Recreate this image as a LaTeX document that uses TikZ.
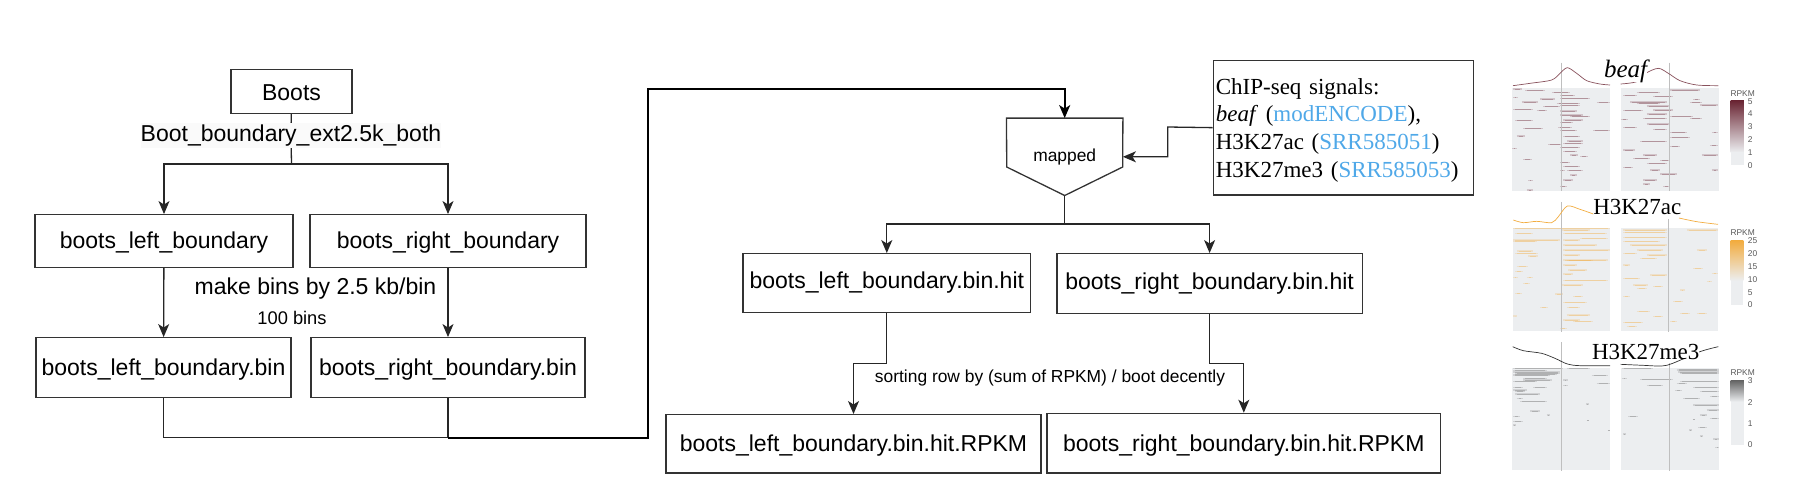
\documentclass[tikz,border=0pt]{standalone}
\usepackage{fontspec}
\setmainfont{Liberation Sans}
\newfontfamily\timesfont{Liberation Serif}
\usetikzlibrary{arrows.meta}

\definecolor{edgegray}{HTML}{333333}
\definecolor{linkblue}{HTML}{4FA8E8}
\definecolor{panelgray}{HTML}{ECEEF0}
\definecolor{beafred}{HTML}{6A2533}
\definecolor{acorange}{HTML}{F2AC3F}
\definecolor{megray}{HTML}{666666}

% streak rows of one heatmap panel: from/to/row
\newcommand{\streaks}[2]{%
  \foreach \xa/\xb/\yy in {#2}{
    \draw[#1, opacity=.2, line width=1.6pt] (\xa,\yy) -- (\xb,\yy);
    \draw[#1, opacity=.3, line width=.9pt, shorten >=2pt, shorten <=2pt] (\xa,\yy) -- (\xb,\yy);
  }}

\begin{document}
\begin{tikzpicture}[
  x=1pt, y=-1pt,
  font=\fontsize{23}{27.6}\selectfont,
  box/.style={draw=edgegray, line width=1.3pt, inner sep=0pt},
  label/.style={text height=20pt, text depth=4.4pt},
  depends/.style={-{Stealth[length=13pt,width=11pt,inset=3.5pt]}, line width=1.3pt, draw=black!85},
  line/.style={-, line width=1.3pt, draw=black!85},
  route/.style={line width=1.9pt, draw=black},
  small/.style={font=\fontsize{17.4}{20}\selectfont},
  title/.style={font=\timesfont\fontsize{23}{26}\selectfont, fill=white, inner sep=0pt},
  panel/.style={fill=panelgray, draw=none},
  curve/.style={line width=.7pt},
  centerline/.style={draw=black!25, line width=.8pt},
  scale label/.style={font=\fontsize{8.4}{10}\selectfont, text=black!65, inner sep=0pt}]

  \useasboundingbox (0,0) rectangle (1802,491);

  % left column
  \node[box, text height=18.8pt, text depth=0pt, minimum width=121pt, minimum height=44pt] (boots) at (291.5,91.3) {Boots};
  \node[fill=black!2, inner sep=0pt, minimum height=25pt] (ext-label) at (291,135.5) {Boot\_boundary\_ext2.5k\_both};
  \node[box, label, minimum width=258pt, minimum height=52.6pt] (left-boundary) at (164,241) {boots\_left\_boundary};
  \node[box, label, minimum width=276pt, minimum height=52.6pt] (right-boundary) at (448,241) {boots\_right\_boundary};
  \node[box, label, minimum width=255pt, minimum height=60pt] (left-bin) at (163.5,367.7) {boots\_left\_boundary.bin};
  \node[box, label, minimum width=274pt, minimum height=60pt] (right-bin) at (448,367.7) {boots\_right\_boundary.bin};
  \node[inner sep=0pt] (make-bins) at (315.5,289) {make bins by 2.5 kb/bin};
  \node[inner sep=0pt, font=\fontsize{18.3}{20}\selectfont] (hundred-bins) at (292,318) {100 bins};

  % middle column
  \node[small, minimum width=116pt, minimum height=77pt, inner sep=0pt] (mapped) at (1064.7,156.8) {mapped};
  \draw[box] (mapped.north west) -- (mapped.north east) -- (1122.7,167) -- (mapped.south) -- (1006.7,167) -- cycle;
  \node[box, anchor=north west, minimum height=134.6pt, text width=255.3pt, inner xsep=2.5pt, align=left] (chip) at (1212.7,59.7)
    {\timesfont\rule{0pt}{21pt}ChIP-seq signals:\\
     \textit{beaf} (\textcolor{linkblue}{modENCODE}),\\
     H3K27ac (\textcolor{linkblue}{SRR585051})\\
     H3K27me3 (\textcolor{linkblue}{SRR585053})};
  \node[box, minimum width=287.7pt, minimum height=58.6pt] (left-hit) at (886.8,283) {boots\_left\_boundary.bin.hit};
  \node[box, minimum width=305.5pt, minimum height=60pt] (right-hit) at (1209.6,283.7) {boots\_right\_boundary.bin.hit};
  \node[box, label, minimum width=375pt, minimum height=58.3pt] (left-rpkm) at (853.5,443.8) {boots\_left\_boundary.bin.hit.RPKM};
  \node[box, label, minimum width=393.7pt, minimum height=59.7pt] (right-rpkm) at (1243.8,443.2) {boots\_right\_boundary.bin.hit.RPKM};
  \node[small, inner sep=0pt] (sorting) at (1050,378) {sorting row by (sum of RPKM) / boot decently};

  % elbows
  \coordinate (boots-split) at (291.5,164);
  \coordinate (bin-join) at (448,437.7);
  \coordinate (riser-low) at (648.4,437.7);
  \coordinate (riser-high) at (648.4,88.7);
  \coordinate (chip-elbow) at (1167.7,127);
  \coordinate (mapped-split) at (1064.7,224);
  \coordinate (sort-left) at (853.5,363.3);
  \coordinate (sort-right) at (1243.8,363.3);

  \draw[line] (boots) -- (ext-label);
  \draw[line] (ext-label) -- (boots-split);
  \draw[depends] (boots-split) -| (left-boundary.north);
  \draw[depends] (boots-split) -| (right-boundary.north);
  \draw[depends] (left-boundary) -- (left-bin);
  \draw[depends] (right-boundary) -- (right-bin);
  \draw[line] (left-bin.south) |- (bin-join);
  \draw[line] (right-bin.south) -- (bin-join);
  \draw[depends, route] (bin-join) -- (riser-low) -- (riser-high) -| (mapped.north);
  \draw[depends] (chip.west) -- (chip-elbow) |- (mapped.east);
  \draw[line] (mapped.south) -- (mapped-split);
  \draw[depends] (mapped-split) -| (left-hit.north);
  \draw[depends] (mapped-split) -| (right-hit.north);
  \draw[depends] (left-hit.south) |- (sort-left) -- (left-rpkm.north);
  \draw[depends] (right-hit.south) |- (sort-right) -- (right-rpkm.north);

  % beaf heatmaps
  \begin{scope}[shift={(1480,40)}, x=.3333pt, y=-.3333pt]
    \fill[panel] (97,145) rectangle (390,452);
    \fill[panel] (422,145) rectangle (716,452);
    \streaks{beafred}{100/125/147, 135/195/152, 215/270/157, 240/285/167, 100/115/173, 180/225/177, 240/330/175, 125/175/186, 350/390/188, 230/300/190, 190/240/200, 240/300/197, 100/160/209, 170/200/212, 240/290/213, 240/310/225, 270/330/230, 105/160/241, 250/310/240, 240/280/248, 130/190/265, 235/275/262, 340/390/271, 240/290/272, 110/135/288, 250/300/290, 260/310/303, 250/310/310, 205/245/313, 97/110/325, 240/300/322, 250/290/335, 270/295/345, 300/325/350, 130/155/358, 240/270/368, 250/300/380, 240/255/392, 260/310/392, 270/290/405, 250/280/420, 145/160/422, 240/260/440, 140/160/450}
    \streaks{beafred}{570/660/150, 470/540/157, 430/470/167, 520/580/170, 640/660/178, 450/560/186, 470/540/190, 630/665/188, 500/570/198, 660/715/195, 430/490/212, 520/580/210, 500/560/222, 570/640/230, 422/445/239, 490/560/235, 630/665/236, 500/570/252, 430/470/262, 520/560/268, 570/620/278, 695/715/278, 570/630/292, 480/560/305, 690/715/317, 570/600/320, 430/465/330, 490/530/345, 665/715/345, 460/510/355, 540/570/362, 500/560/370, 430/460/382, 510/540/390, 695/715/390, 540/590/402, 490/530/420, 550/570/440, 490/510/432}
    \draw[centerline] (243,68) -- (243,452);
    \draw[centerline] (568,68) -- (568,452);
    \draw[curve, draw=beafred!80] plot[smooth] coordinates {(99,137) (150,130) (215,120) (240,100) (262,83) (290,100) (320,122) (360,132) (390,135)};
    \draw[curve, draw=beafred!80] plot[smooth] coordinates {(422,132) (470,125) (497,100) (535,85) (565,100) (600,122) (650,135) (715,137)};
    \node[title, font=\timesfont\itshape\fontsize{25}{26}\selectfont] (beaf-title) at (437,93) {beaf};
    \shade[top color=beafred, bottom color=panelgray] (752,182) rectangle (792,337);
    \fill[panel] (752,337) rectangle (792,375);
    \node[scale label] (beaf-unit) at (788,160) {RPKM};
    \foreach \val/\yy in {5/184, 4/222, 3/261, 2/299, 1/337, 0/376}
      \node[scale label, anchor=west] (beaf-tick-\val) at (803,\yy) {\val};
  \end{scope}

  % H3K27ac heatmaps
  \begin{scope}[shift={(1480,190)}, x=.3333pt, y=-.3333pt]
    \fill[panel] (99,115) rectangle (390,422);
    \fill[panel] (422,115) rectangle (714,422);
    \streaks{acorange}{100/390/116, 245/330/120, 105/160/130, 250/380/130, 100/240/150, 250/300/150, 100/170/155, 300/385/145, 250/350/165, 110/160/183, 250/390/180, 105/175/190, 145/175/198, 250/300/195, 260/340/212, 250/385/210, 250/290/225, 110/145/230, 265/320/240, 105/130/245, 250/280/252, 100/115/262, 140/160/262, 250/385/272, 245/310/285, 130/150/280, 105/125/310, 225/250/312, 280/310/320, 250/320/338, 180/205/352, 260/300/352, 100/112/378, 260/330/375, 250/300/390, 280/340/395, 240/260/415}
    \streaks{acorange}{430/560/120, 430/560/128, 620/714/120, 430/560/143, 430/540/155, 450/560/165, 650/680/180, 470/550/180, 430/470/190, 500/560/195, 480/530/205, 430/450/225, 640/670/235, 695/714/250, 430/480/265, 510/560/255, 460/505/285, 470/500/295, 520/550/290, 680/695/275, 600/615/300, 430/450/320, 580/610/335, 470/510/365, 430/490/398, 520/550/380, 600/630/370, 650/680/370, 440/470/410, 570/590/395}
    \draw[centerline] (244,37) -- (244,425);
    \draw[centerline] (566,88) -- (566,425);
    \draw[curve, draw=acorange] plot[smooth] coordinates {(100,90) (130,98) (170,94) (215,98) (235,80) (262,48) (300,58) (340,72)};
    \draw[curve, draw=acorange] plot[smooth] coordinates {(597,84) (650,95) (714,103)};
    \node[title] (ac-title) at (472,50) {H3K27ac};
    \shade[top color=acorange, bottom color=panelgray] (752,152) rectangle (790,272);
    \fill[panel] (752,272) rectangle (790,345);
    \node[scale label] (ac-unit) at (788,128) {RPKM};
    \foreach \val/\yy in {25/152, 20/191, 15/230, 10/268, 5/307, 0/345}
      \node[scale label, anchor=west] (ac-tick-\val) at (803,\yy) {\val};
  \end{scope}

  % H3K27me3 heatmaps
  \begin{scope}[shift={(1480,330)}, x=.3333pt, y=-.3333pt]
    \fill[panel] (97,113) rectangle (390,420);
    \fill[panel] (422,113) rectangle (716,420);
    \streaks{megray}{100/250/116, 260/330/116, 100/200/122, 105/240/130, 100/240/126, 100/210/137, 100/230/134, 335/385/136, 100/170/154, 130/215/150, 250/265/150, 350/390/160, 130/200/145, 100/140/180, 105/135/184, 160/200/172, 250/265/167, 100/130/172, 105/180/192, 110/130/205, 120/200/215, 318/328/222, 150/180/243, 100/120/260, 200/210/255, 100/130/275, 320/328/272, 100/108/285, 383/390/302}
    \streaks{megray}{425/520/116, 590/716/118, 590/716/122, 600/716/130, 595/716/126, 480/580/148, 425/440/146, 600/716/155, 590/620/160, 500/550/167, 640/716/172, 585/605/182, 660/716/185, 610/660/205, 690/716/200, 640/716/225, 680/716/240, 445/475/260, 660/680/255, 638/646/268, 690/716/265, 655/680/293, 628/636/300, 430/438/312, 660/668/318, 700/716/327, 706/716/352}
    \draw[centerline] (243,37) -- (243,422);
    \draw[centerline] (568,100) -- (568,422);
    \draw[curve, draw=black!80] plot[smooth] coordinates {(98,50) (130,62) (185,70) (225,85) (262,102) (300,107) (390,107)};
    \draw[curve, draw=black!80] plot[smooth] coordinates {(422,103) (490,106) (545,108) (578,100) (660,65) (715,50)};
    \node[title] (me-title) at (497,65) {H3K27me3};
    \shade[top color=megray, bottom color=panelgray] (752,152) rectangle (792,215);
    \fill[panel] (752,215) rectangle (792,345);
    \node[scale label] (me-unit) at (788,128) {RPKM};
    \foreach \val/\yy in {3/152, 2/217, 1/281, 0/345}
      \node[scale label, anchor=west] (me-tick-\val) at (803,\yy) {\val};
  \end{scope}

\end{tikzpicture}
\end{document}
